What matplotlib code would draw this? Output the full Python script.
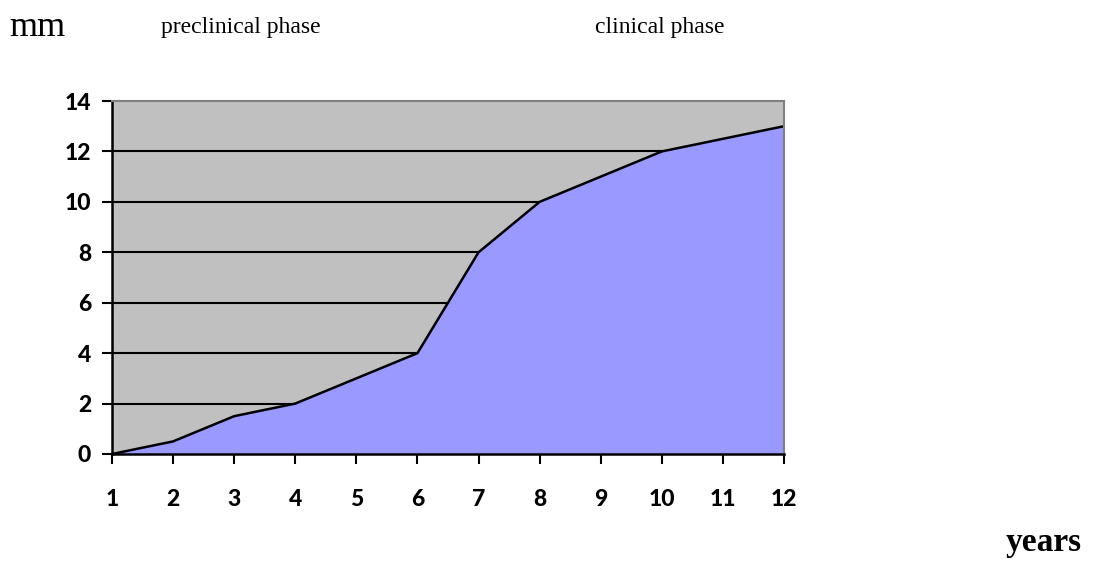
import matplotlib
matplotlib.use("Agg")
import matplotlib.pyplot as plt

years = [1, 2, 3, 4, 5, 6, 7, 8, 9, 10, 11, 12]
mm = [0, 0.5, 1.5, 2, 3, 4, 8, 10, 11, 12, 12.5, 13]
yticks = [0, 2, 4, 6, 8, 10, 12, 14]

fig = plt.figure(figsize=(10.98, 5.61), dpi=100)
ax = fig.add_axes([112/1098, 1-454/561, (784-112)/1098, (454-101)/561])
ax.set_facecolor('#C0C0C0')
ax.set_xlim(1, 12)
ax.set_ylim(0, 14)

for y in yticks[1:-1]:
    ax.axhline(y, color='black', lw=1.5, zorder=1)

ax.fill_between(years, mm, 0, facecolor='#9999FF', edgecolor='none', zorder=2)
ax.plot(years, mm, color='black', lw=1.8, zorder=3)
ax.plot([years[-1], years[-1]], [0, mm[-1]], color='black', lw=1.8, zorder=3)

ax.set_xticks(years)
ax.set_yticks(yticks)
ax.tick_params(axis='both', direction='out', length=7, width=1.5, color='black')
ax.tick_params(axis='x', pad=18)
ax.tick_params(axis='y', pad=8)
for lab in ax.get_xticklabels() + ax.get_yticklabels():
    lab.set_fontfamily('Lato')
    lab.set_fontweight('black')
    lab.set_fontsize(16.5)

ax.spines['left'].set_color('black')
ax.spines['left'].set_linewidth(1.8)
ax.spines['bottom'].set_color('black')
ax.spines['bottom'].set_linewidth(1.8)
ax.spines['top'].set_color('#808080')
ax.spines['top'].set_linewidth(1.5)
ax.spines['right'].set_color('#808080')
ax.spines['right'].set_linewidth(1.5)
for s in ax.spines.values():
    s.set_zorder(4)

fig.text(9/1098, 1-27/561, 'mm', fontfamily='Liberation Serif', fontsize=26, va='center', ha='left')
fig.text(161/1098, 1-27/561, 'preclinical phase', fontfamily='Liberation Serif', fontsize=17, va='center', ha='left')
fig.text(595/1098, 1-27/561, 'clinical phase', fontfamily='Liberation Serif', fontsize=17, va='center', ha='left')
fig.text(1082/1098, 1-543/561, 'years', fontfamily='Liberation Serif', fontsize=24, fontweight='bold', va='center', ha='right')

fig.savefig('out.png', dpi=100)
